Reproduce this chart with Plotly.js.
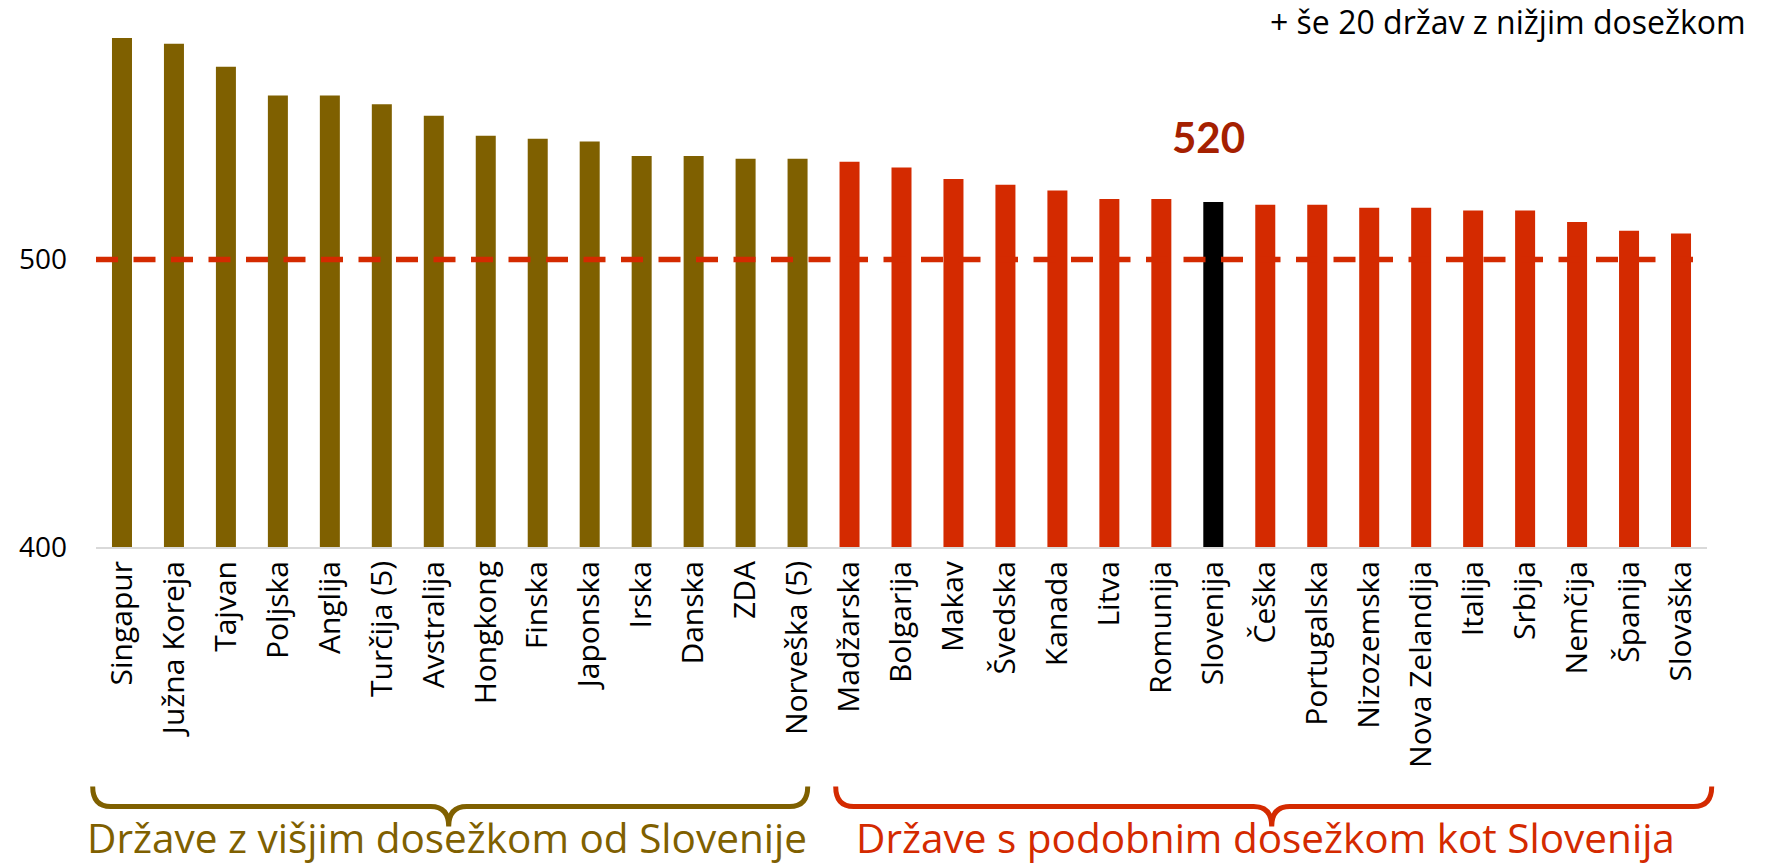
<!DOCTYPE html>
<html>
<head>
<meta charset="utf-8">
<script src="https://cdn.plot.ly/plotly-3.0.1.min.js"></script>
<style>html,body{margin:0;padding:0;background:#fff;}#chart{width:1770px;height:866px;}</style>
</head>
<body>
<div id="chart"></div>
<script>
// ---- data ----
const categories = ["Singapur","Južna Koreja","Tajvan","Poljska","Anglija","Turčija (5)","Avstralija","Hongkong","Finska","Japonska","Irska","Danska","ZDA","Norveška (5)","Madžarska","Bolgarija","Makav","Švedska","Kanada","Litva","Romunija","Slovenija","Češka","Portugalska","Nizozemska","Nova Zelandija","Italija","Srbija","Nemčija","Španija","Slovaška"];
const scores = [577,575,567,557,557,554,550,543,542,541,536,536,535,535,534,532,528,526,524,521,521,520,519,519,518,518,517,517,513,510,509];
const higherCount = 14;           // countries above Slovenia
const highlight = "Slovenija";
const referenceValue = 500;
const yTicks = [400, 500];
const noteText = "+ še 20 držav z nižjim dosežkom";
const groupHigher = "Države z višjim dosežkom od Slovenije";
const groupSimilar = "Države s podobnim dosežkom kot Slovenija";

// ---- styling ----
const BROWN = "#7F6000", RED = "#D42A00", DARKRED = "#A52000";
const W = 1770, H = 866, L = 96.3, R = 62.7, T = 30, B = 319.3;
const pw = W - L - R, ph = H - T - B;
const fx = x => (x - L) / pw;
const fy = y => (H - B - y) / ph;
const P = (x, y) => fx(x).toFixed(5) + "," + fy(y).toFixed(5);

const colors = categories.map((c, i) => c === highlight ? "#000000" : (i < higherCount ? BROWN : RED));
const hiIdx = categories.indexOf(highlight);

function brace(x0, x1, xm, yTop, yLine, yTip, r) {
  return "M " + P(x0, yTop) +
    " Q " + P(x0, yLine) + " " + P(x0 + r, yLine) +
    " L " + P(xm - r, yLine) +
    " Q " + P(xm, yLine) + " " + P(xm, yTip) +
    " Q " + P(xm, yLine) + " " + P(xm + r, yLine) +
    " L " + P(x1 - r, yLine) +
    " Q " + P(x1, yLine) + " " + P(x1, yTop);
}

const trace = {
  type: "bar",
  x: categories,
  y: scores,
  marker: { color: colors, line: { width: 0 } },
  hoverinfo: "x+y"
};

const layout = {
  width: W, height: H,
  margin: { l: L, r: R, t: T, b: B },
  paper_bgcolor: "#ffffff", plot_bgcolor: "#ffffff",
  showlegend: false,
  bargap: 0.615,
  font: { family: "Open Sans, sans-serif", color: "#000" },
  xaxis: {
    type: "category",
    tickangle: -90,
    showline: true, linecolor: "#D9D9D9", linewidth: 2,
    ticks: "", showgrid: false, zeroline: false,
    tickfont: { family: "Open Sans", size: 30, color: "#000" },
    ticklabelstandoff: 0,
    fixedrange: true
  },
  yaxis: {
    range: [400, 579.8],
    tickvals: yTicks,
    showgrid: false, zeroline: false, showline: false, ticks: "",
    tickfont: { family: "Open Sans", size: 28, color: "#000" },
    ticklabelstandoff: 28,
    fixedrange: true
  },
  shapes: [
    { type: "line", xref: "paper", x0: 0, x1: 1, yref: "y", y0: referenceValue, y1: referenceValue,
      line: { color: RED, width: 5.5, dash: "22px,15.5px" }, layer: "above" },
    { type: "path", xref: "paper", yref: "paper", path: brace(93, 808, 449, 786, 806, 826, 18),
      line: { color: BROWN, width: 5 } },
    { type: "path", xref: "paper", yref: "paper", path: brace(836, 1712, 1272, 786, 806, 826, 18),
      line: { color: RED, width: 5 } }
  ],
  annotations: [
    { xref: "paper", yref: "paper", x: fx(1748), y: fy(22), xanchor: "right", yanchor: "middle",
      text: noteText, showarrow: false, font: { family: "Open Sans", size: 32, color: "#000" } },
    { xref: "x", yref: "y", x: categories[hiIdx], y: scores[hiIdx], yanchor: "bottom", yshift: 38, xshift: -5,
      text: String(scores[hiIdx]), showarrow: false,
      font: { family: "Lato", size: 42, color: DARKRED, weight: 700 } },
    { xref: "paper", yref: "paper", x: fx(447), y: fy(837), xanchor: "center", yanchor: "middle",
      text: groupHigher, showarrow: false, font: { family: "Open Sans", size: 40.5, color: BROWN } },
    { xref: "paper", yref: "paper", x: fx(1266), y: fy(837), xanchor: "center", yanchor: "middle",
      text: groupSimilar, showarrow: false, font: { family: "Open Sans", size: 40.5, color: RED } }
  ]
};

Plotly.newPlot("chart", [trace], layout, { displayModeBar: false, staticPlot: true });
</script>
</body>
</html>
